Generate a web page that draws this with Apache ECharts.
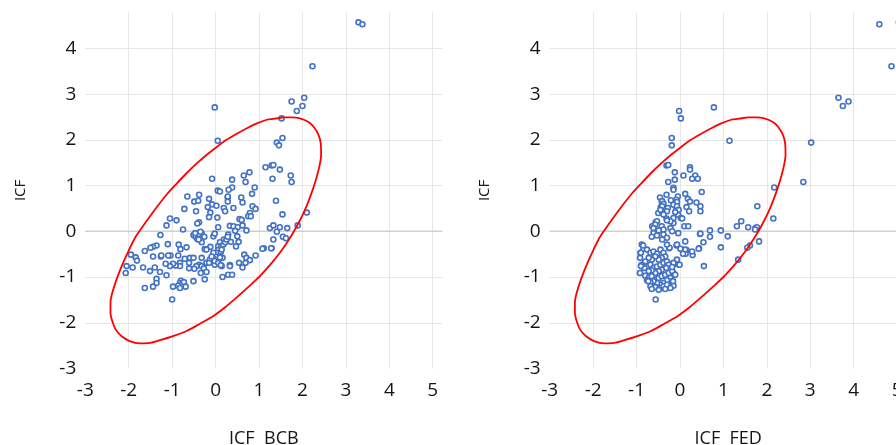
<!DOCTYPE html>
<html><head><meta charset="utf-8">
<script src="https://cdn.jsdelivr.net/npm/echarts@6/dist/echarts.min.js"></script>
<style>html,body{margin:0;padding:0;background:#fff}#c{width:896px;height:445px}</style>
</head><body><div id="c"></div>
<script>
// ---- data ----
const xTickLabels = [-3, -2, -1, 0, 1, 2, 3, 4, 5];
const yTickLabels = [-3, -2, -1, 0, 1, 2, 3, 4];
const xTitleLeft = 'ICF  BCB';
const xTitleRight = 'ICF  FED';
const yTitle = 'ICF';

// ICF_BCB (x) vs ICF (y)
const bcbPoints = [
[3.29,4.57],[3.38,4.53],[2.23,3.61],[2.04,2.92],[1.75,2.84],[2.0,2.74],[1.87,2.63],[-0.02,2.71],[1.52,2.47],[0.05,1.98],
[1.54,2.04],[1.41,1.94],[1.46,1.88],[1.15,1.40],[1.29,1.44],[1.33,1.45],[1.48,1.35],[1.31,1.15],[1.73,1.22],[1.75,1.08],
[-0.08,1.15],[0.38,1.13],[0.65,1.22],[0.78,1.29],[0.69,1.08],[0.90,0.96],[0.05,0.89],[0.10,0.87],[0.38,0.96],[0.30,0.91],
[0.84,0.82],[-0.65,0.76],[-0.38,0.80],[-0.49,0.65],[-0.40,0.67],[-0.15,0.71],[0.28,0.74],[0.28,0.65],[0.59,0.74],[0.62,0.63],
[1.39,0.67],[-0.08,0.59],[-0.18,0.53],[0.02,0.56],[0.19,0.51],[0.41,0.51],[0.85,0.55],[0.92,0.49],[-0.72,0.49],[-0.45,0.44],
[-0.12,0.41],[0.22,0.44],[0.79,0.40],[0.75,0.33],[1.54,0.37],[-0.15,0.31],[0.04,0.30],[0.55,0.27],[-1.05,0.28],[-0.90,0.24],
[-0.38,0.20],[-0.42,0.17],[-1.13,0.13],[0.33,0.12],[0.41,0.11],[0.51,0.09],[0.62,0.13],[0.06,0.09],[1.89,0.13],[2.10,0.41],
[-0.75,0.04],[1.25,0.07],[1.33,0.13],[1.48,0.09],[1.65,0.07],[1.41,-0.01],[0.71,0.02],[0.45,0.01],[-1.27,-0.08],[-0.51,-0.08],
[-0.46,-0.12],[-0.42,-0.17],[-0.32,-0.05],[-0.26,-0.12],[-0.05,-0.11],[-0.02,-0.05],[0.19,-0.18],[0.29,-0.07],[0.35,-0.23],[0.50,-0.11],
[0.53,-0.23],[0.47,-0.33],[0.10,-0.24],[-0.32,-0.24],[-0.39,-0.18],[1.55,-0.12],[1.33,-0.18],[1.62,-0.15],[1.11,-0.37],[1.29,-0.37],
[-1.10,-0.28],[-1.36,-0.31],[-1.44,-0.34],[-1.50,-0.36],[-1.63,-0.43],[-0.85,-0.29],[-0.67,-0.35],[-0.81,-0.39],[-0.25,-0.39],[-0.12,-0.34],
[-0.21,-0.40],[0.06,-0.33],[0.12,-0.36],[0.06,-0.41],[0.02,-0.47],[0.12,-0.45],[0.01,-0.55],[0.10,-0.55],[-0.05,-0.60],[0.16,-0.58],
[-1.95,-0.51],[-1.84,-0.57],[-1.81,-0.64],[-1.44,-0.55],[-1.26,-0.55],[-1.25,-0.53],[-1.04,-0.53],[-1.09,-0.53],[-0.86,-0.53],[-0.59,-0.58],
[-0.51,-0.58],[-0.32,-0.58],[-0.13,-0.62],[0.66,-0.51],[0.92,-0.53],[0.71,-0.58],[0.79,-0.63],[0.69,-0.69],[0.62,-0.79],[0.33,-0.74],
[0.14,-0.76],[-0.02,-0.73],[-0.21,-0.69],[-0.38,-0.73],[-0.44,-0.76],[-0.61,-0.69],[-0.61,-0.81],[-0.49,-0.82],[-0.32,-0.76],[-0.27,-0.81],
[-0.21,-0.89],[-0.25,-1.05],[-0.34,-0.91],[-0.51,-1.09],[-0.82,-0.69],[-0.82,-0.76],[-0.92,-0.75],[-0.98,-0.71],[-1.05,-0.76],[-1.15,-0.71],
[-1.13,-0.96],[-1.28,-0.89],[-1.40,-0.79],[-1.51,-0.87],[-1.67,-0.79],[-1.91,-0.79],[-2.05,-0.76],[-2.07,-0.91],[-1.36,-1.04],[-1.36,-1.13],
[-1.44,-1.21],[-1.63,-1.24],[-0.80,-1.08],[-0.82,-1.13],[-0.78,-1.16],[-0.73,-1.11],[-0.86,-1.19],[-0.82,-1.24],[-0.98,-1.21],[-0.69,-1.21],
[-1.0,-1.49],[0.16,-1.0],[0.29,-0.95],[0.38,-0.95],[0.33,-0.76],[0.54,-0.69],[-0.71,-0.60],[0.10,-0.57],[0.14,-0.40],[0.18,-0.29],
[0.22,-0.24],[0.25,-0.18],[0.28,-0.12],[-0.05,-0.47],[-0.09,-0.55],[-0.15,-0.69],[-0.02,-0.65],[0.06,-0.69],[0.12,-0.74],[-0.39,-0.06],
[-0.35,-0.01],[-0.47,-0.04],[0.28,0.76],[0.60,0.25],[0.81,0.33],[1.08,-0.38],[1.28,-0.37]
];

// ICF_FED (x) vs ICF (y)
const fedPoints = [
[4.59,4.53],[5.04,4.57],[4.87,3.61],[3.65,2.92],[3.88,2.84],[3.75,2.74],[0.78,2.71],[-0.02,2.63],[0.02,2.47],[3.02,1.94],
[1.14,1.98],[-0.19,2.04],[-0.19,1.88],[2.84,1.08],[2.17,0.96],[1.78,0.55],[2.15,0.28],
[-0.31,1.44],[-0.27,1.45],[0.23,1.40],[0.23,1.35],[-0.12,1.29],[0.08,1.22],[0.35,1.22],[0.28,1.15],[0.41,1.15],
[-0.12,1.13],[-0.27,1.08],[-0.15,0.95],[-0.15,0.91],[0.12,0.82],[0.50,0.86],[-0.31,0.80],[-0.46,0.74],[-0.05,0.76],[0.18,0.71],
[0.23,0.65],[-0.21,0.68],[-0.42,0.65],[-0.08,0.69],[0.38,0.63],[0.47,0.55],[0.47,0.44],[0.15,0.53],[0.21,0.44],[-0.10,0.55],
[-0.28,0.51],[-0.44,0.53],[-0.50,0.40],[-0.42,0.44],[-0.10,0.41],[-0.04,0.36],[0.02,0.29],[-0.31,0.28],[-0.15,0.18],[-0.56,0.20],
[-0.64,0.11],[-0.42,0.11],[0.10,0.11],[0.19,0.11],[1.41,0.22],[1.31,0.11],[1.57,0.09],[1.74,0.07],[1.77,0.09],[1.73,0.04],
[0.69,0.02],[0.94,0.02],[-0.04,-0.04],[0.46,-0.06],[0.69,-0.12],[1.10,-0.11],[0.12,-0.22],[0.54,-0.24],[1.82,-0.22],[-0.08,-0.31],
[1.61,-0.31],[1.55,-0.36],[0.94,-0.35],[0.44,-0.37],[0.04,-0.40],[0.15,-0.41],[0.08,-0.44],[0.13,-0.49],[0.29,-0.52],[-0.25,-0.37],
[1.34,-0.62],[0.55,-0.76],[-0.02,-0.73],[-0.13,-0.71],[-0.18,-0.76],[-0.15,-0.91],[-0.21,-1.05],[-0.18,-1.11],[-0.56,-1.49],
[-0.41,0.66],[-0.38,0.60],[-0.41,0.55],[-0.07,0.64],[-0.15,0.58],[-0.07,0.55],[-0.03,0.47],[-0.11,0.42],[-0.45,0.47],[-0.30,0.44],
[-0.38,0.37],[-0.15,0.29],[0.05,0.28],[-0.22,0.22],[-0.30,0.24],[-0.53,0.22],[-0.57,0.15],[-0.61,0.07],[-0.38,0.04],[-0.49,0.02],
[-0.22,0.07],[-0.18,0.0],[-0.61,-0.04],[-0.53,-0.09],[-0.65,-0.12],[-0.38,-0.07],[-0.30,-0.14],[-0.41,-0.18],[0.47,-0.05],[0.43,-0.38],
[0.28,-0.44],[0.12,-0.40],[0.07,-0.49],[-0.07,-0.29],[0.01,-0.38],[-0.24,-0.36],[-0.30,-0.29],[-0.88,-0.29],[-0.84,-0.38],[-0.91,-0.47],
[-0.76,-0.40],[-0.68,-0.47],[-0.61,-0.44],[-0.53,-0.49],[-0.45,-0.40],[-0.38,-0.47],[-0.34,-0.55],[-0.42,-0.58],[-0.49,-0.62],[-0.57,-0.55],
[-0.65,-0.62],[-0.72,-0.58],[-0.80,-0.66],[-0.76,-0.77],[-0.68,-0.73],[-0.61,-0.80],[-0.53,-0.77],[-0.45,-0.73],[-0.38,-0.69],[-0.30,-0.66],
[-0.26,-0.73],[-0.32,-0.80],[-0.42,-0.84],[-0.49,-0.87],[-0.57,-0.91],[-0.65,-0.85],[-0.72,-0.87],[-0.82,-0.80],[-0.88,-0.73],[-0.92,-0.91],
[-0.80,-0.97],[-0.72,-1.02],[-0.65,-0.98],[-0.57,-1.06],[-0.49,-1.02],[-0.42,-0.98],[-0.34,-0.95],[-0.26,-0.91],[-0.18,-0.87],[-0.22,-1.02],
[-0.30,-1.07],[-0.38,-1.13],[-0.45,-1.17],[-0.53,-1.13],[-0.61,-1.09],[-0.68,-1.12],[-0.76,-1.07],[-0.68,-1.20],[-0.57,-1.22],[-0.45,-1.24],
[-0.38,-1.20],[-0.30,-1.17],[-0.18,-1.09],[-0.15,-1.19],[-0.22,-1.24],[-0.34,-1.26],[-0.49,-1.28],[-0.65,-1.26],[-0.07,-0.62],[-0.15,-0.69],
[-0.01,-0.73],[-0.18,-0.78],[-0.11,-0.95],[-0.16,-1.09],[-0.85,-0.31],[-0.90,-0.47],[-0.92,-0.58],[-0.90,-0.76],[-0.92,-0.91],[-0.73,-1.09]
];

// red ellipse outline (same in both panels)
const ellipsePoints = [
[1.56,2.49],[1.33,2.46],[1.18,2.44],[0.95,2.36],[0.71,2.25],[0.48,2.13],[0.25,2.0],[0.02,1.84],[-0.21,1.67],[-0.44,1.48],
[-0.67,1.27],[-0.90,1.04],[-1.13,0.80],[-1.33,0.56],[-1.51,0.33],[-1.69,0.09],[-1.86,-0.15],[-2.00,-0.42],[-2.13,-0.69],[-2.28,-1.05],
[-2.38,-1.35],[-2.42,-1.56],[-2.42,-1.78],[-2.38,-1.96],[-2.30,-2.15],[-2.17,-2.29],[-1.98,-2.40],[-1.74,-2.45],[-1.51,-2.44],[-1.28,-2.38],
[-0.98,-2.29],[-0.67,-2.18],[-0.36,-2.02],[-0.05,-1.85],[0.22,-1.66],[0.48,-1.45],[0.75,-1.22],[1.02,-0.98],[1.26,-0.73],[1.48,-0.47],
[1.69,-0.18],[1.87,0.11],[2.04,0.43],[2.18,0.76],[2.31,1.13],[2.39,1.42],[2.43,1.67],[2.42,1.93],[2.37,2.11],[2.27,2.27],
[2.14,2.39],[1.94,2.47],[1.75,2.49],[1.56,2.49]
];

const xMin = -3, xMax = 5.22, yMin = -3, yMax = 4.79;
const zeroLine = [[xMin, 0], [xMax, 0]];

// ---- chart ----
const FONT = '"Open Sans", "Liberation Sans", sans-serif';
const TXT = '#141414';

function xAxisCfg(gi, name) {
  return {
    type: 'value', gridIndex: gi, min: xMin, max: xMax, interval: 1,
    name: name, nameLocation: 'middle', nameGap: 61,
    nameTextStyle: { fontFamily: FONT, fontSize: 18, color: TXT },
    axisLine: { show: false, onZero: false }, axisTick: { show: false },
    axisLabel: { fontFamily: FONT, fontSize: 19, color: TXT, margin: 13,
      formatter: v => xTickLabels.includes(Math.round(v * 1000) / 1000) ? String(v) : '' },
    splitLine: { show: true, showMinLine: false, showMaxLine: false, lineStyle: { color: '#e6e6e6', width: 1 } }
  };
}
function yAxisCfg(gi) {
  return {
    type: 'value', gridIndex: gi, min: yMin, max: yMax, interval: 1,
    name: yTitle, nameLocation: 'middle', nameGap: 57,
    nameTextStyle: { fontFamily: FONT, fontSize: 15, color: TXT },
    axisLine: { show: false, onZero: false }, axisTick: { show: false },
    axisLabel: { fontFamily: FONT, fontSize: 19, color: TXT, margin: 9, padding: [0, 0, 5, 0],
      formatter: v => yTickLabels.includes(Math.round(v * 1000) / 1000) ? String(v) : '' },
    splitLine: { show: true, showMinLine: false, showMaxLine: false, lineStyle: { color: '#e6e6e6', width: 1 } }
  };
}
function panelSeries(gi, pts) {
  return [
    { type: 'line', xAxisIndex: gi, yAxisIndex: gi, data: zeroLine, showSymbol: false, silent: true, z: 1,
      lineStyle: { color: '#d0d0d0', width: 1.5 } },
    { type: 'scatter', xAxisIndex: gi, yAxisIndex: gi, data: pts, symbol: 'circle', symbolSize: 5, z: 2,
      itemStyle: { color: '#ffffff', borderColor: '#4472C4', borderWidth: 1.6, opacity: 1 } },
    { type: 'line', xAxisIndex: gi, yAxisIndex: gi, data: ellipsePoints, smooth: 0.3, showSymbol: false, silent: true, z: 3,
      lineStyle: { color: '#ff0000', width: 1.8 } }
  ];
}

const chart = echarts.init(document.getElementById('c'), null, { renderer: 'canvas' });
chart.setOption({
  animation: false,
  backgroundColor: '#ffffff',
  grid: [
    { left: 85.3, top: 12.3, width: 357, height: 356.2, outerBoundsMode: 'none', containLabel: false },
    { left: 549.7, top: 12.3, width: 357, height: 356.2, outerBoundsMode: 'none', containLabel: false }
  ],
  xAxis: [xAxisCfg(0, xTitleLeft), xAxisCfg(1, xTitleRight)],
  yAxis: [yAxisCfg(0), yAxisCfg(1)],
  series: [...panelSeries(0, bcbPoints), ...panelSeries(1, fedPoints)]
});
</script>
</body></html>
